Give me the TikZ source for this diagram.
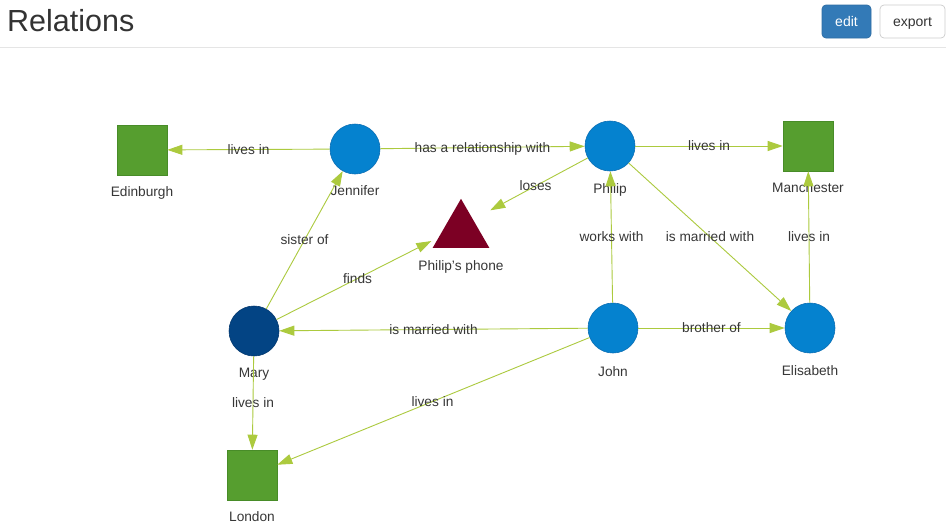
\documentclass[tikz,border=0pt]{standalone}
\usepackage{fontspec}
\setmainfont{Liberation Sans}
\usetikzlibrary{arrows.meta,shapes.geometric,calc}
\definecolor{nodeblue}{RGB}{5,130,207}
\definecolor{nodeblueborder}{RGB}{10,110,180}
\definecolor{maryblue}{RGB}{3,68,132}
\definecolor{maryborder}{RGB}{2,55,110}
\definecolor{placegreen}{RGB}{86,158,47}
\definecolor{placeborder}{RGB}{72,140,40}
\definecolor{phonered}{RGB}{124,0,36}
\definecolor{edgecol}{RGB}{172,202,62}
\definecolor{labgray}{RGB}{55,55,55}
\definecolor{titlegray}{RGB}{51,51,51}
\definecolor{btnblue}{RGB}{51,122,183}
\definecolor{btnblueborder}{RGB}{46,109,164}
\definecolor{btngray}{RGB}{204,204,204}
\definecolor{rulegray}{RGB}{229,229,229}
\begin{document}
\begin{tikzpicture}[x=1pt,y=-1pt,
  person/.style={circle,minimum size=50pt,inner sep=0pt,fill=nodeblue,draw=nodeblueborder,line width=0.6pt},
  personalt/.style={person,fill=maryblue,draw=maryborder},
  place/.style={rectangle,minimum size=50pt,inner sep=0pt,fill=placegreen,draw=placeborder,line width=0.6pt},
  thinghit/.style={circle,minimum size=66pt,inner sep=0pt},
  thingshape/.style={regular polygon,regular polygon sides=3,minimum size=65.4pt,inner sep=0pt,fill=phonered},
  nlab/.style={anchor=base,font=\fontsize{13.7}{16}\selectfont,text=labgray,inner sep=0pt},
  elab/.style={font=\fontsize{13.7}{16}\selectfont,text=labgray,inner sep=0pt,text height=9.8pt,text depth=0pt},
  link/.style={draw=edgecol,line width=0.9pt,-{Triangle[length=15pt,width=10pt]}},
  btn/.style={rectangle,rounded corners=4pt,minimum height=33pt,inner sep=0pt,font=\fontsize{14}{16}\selectfont,line width=0.7pt,text height=10pt,text depth=0pt}
]
\useasboundingbox (0,0) rectangle (946,528);
\fill[white] (0,0) rectangle (946,528);

% header
\node[anchor=base west,inner sep=0pt,font=\fontsize{30.5}{36}\selectfont,text=titlegray] (title) at (7,31) {Relations};
\node[btn,minimum width=49pt,fill=btnblue,draw=btnblueborder,text=white] (editbtn) at (846.5,21.5) {edit};
\node[btn,minimum width=65pt,fill=white,draw=btngray,text=titlegray] (exportbtn) at (912.5,21.5) {export};
\draw[rulegray,line width=1pt] (0,47.5) -- (946,47.5);

% nodes
\node[place] (edinburgh) at (142,150) {};
\node[person] (jennifer) at (355,149) {};
\node[person] (philip) at (610,146) {};
\node[place] (manchester) at (808,146) {};
\node[thingshape] (phoneshape) at (461,231.5) {};
\node[thinghit] (phone) at (461,226) {};
\node[personalt] (mary) at (254,331) {};
\node[person] (john) at (613,328) {};
\node[person] (elisabeth) at (810,328) {};
\node[place] (london) at (252,475) {};

% node labels
\node[nlab] (edinburghL) at (142,196) {Edinburgh};
\node[nlab] (jenniferL) at (355,195) {Jennifer};
\node[nlab] (philipL) at (610,193) {Philip};
\node[nlab] (manchesterL) at (808,192) {Manchester};
\node[nlab] (phoneL) at (461,270) {Philip's phone};
\node[nlab] (maryL) at (254,377) {Mary};
\node[nlab] (johnL) at (613,376) {John};
\node[nlab] (elisabethL) at (810,375) {Elisabeth};
\node[nlab] (londonL) at (252,521) {London};

% connectors
\draw[link] (jennifer) -- (edinburgh);
\draw[link] (jennifer) -- (philip);
\draw[link] (philip) -- (manchester);
\draw[link] (philip) -- (phone);
\draw[link] (mary) -- (jennifer);
\draw[link] (mary) -- (phone);
\draw[link] (philip) -- (elisabeth);
\draw[link] (john) -- (philip);
\draw[link] (elisabeth) -- (manchester);
\draw[link] (john) -- (mary);
\draw[link] (john) -- (elisabeth);
\draw[link] (mary) -- (london);
\draw[link] (john) -- (london);

% connector labels
\node[elab] (l1) at ($(jennifer.center)!0.5!(edinburgh.center)$) {lives in};
\node[elab] (l2) at ($(jennifer.center)!0.5!(philip.center)$) {has a relationship with};
\node[elab] (l3) at ($(philip.center)!0.5!(manchester.center)$) {lives in};
\node[elab] (l4) at ($(philip.center)!0.5!(phone.center)$) {loses};
\node[elab] (l5) at ($(mary.center)!0.5!(jennifer.center)$) {sister of};
\node[elab] (l6) at ($(mary.center)!0.5!(phone.center)$) {finds};
\node[elab] (l7) at ($(philip.center)!0.5!(elisabeth.center)$) {is married with};
\node[elab] (l8) at ($(john.center)!0.5!(philip.center)$) {works with};
\node[elab] (l9) at ($(elisabeth.center)!0.5!(manchester.center)$) {lives in};
\node[elab] (l10) at ($(john.center)!0.5!(mary.center)$) {is married with};
\node[elab] (l11) at ($(john.center)!0.5!(elisabeth.center)$) {brother of};
\node[elab] (l12) at ($(mary.center)!0.5!(london.center)$) {lives in};
\node[elab] (l13) at ($(john.center)!0.5!(london.center)$) {lives in};
\end{tikzpicture}
\end{document}
